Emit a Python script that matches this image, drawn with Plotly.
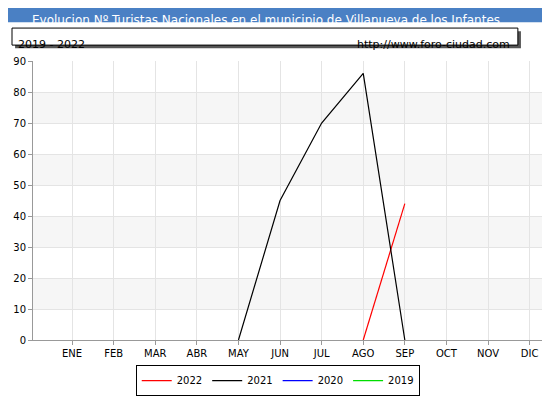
import plotly.graph_objects as go

months = ['ENE', 'FEB', 'MAR', 'ABR', 'MAY', 'JUN', 'JUL', 'AGO', 'SEP', 'OCT', 'NOV', 'DIC']
y2022 = [None, None, None, None, None, None, None, 0, 44, None, None, None]
y2021 = [None, None, None, None, 0, 45, 70, 86, 0, None, None, None]
y2020 = [None] * 12
y2019 = [None] * 12

series = [('2022', y2022, 'red'), ('2021', y2021, 'black'),
          ('2020', y2020, 'blue'), ('2019', y2019, '#00dd00')]

fig = go.Figure()
for name, ys, col in series:
    fig.add_trace(go.Scatter(x=list(range(12)), y=ys, name=name, mode='lines',
                             line=dict(color=col, width=1.2), connectgaps=False))

shapes = []
# light bands
for lo in range(10, 90, 20):
    shapes.append(dict(type='rect', xref='paper', yref='y', x0=0, x1=1, y0=lo, y1=lo + 10,
                       fillcolor='#f6f6f6', line_width=0, layer='below'))
# title bar
shapes.append(dict(type='rect', xref='paper', yref='paper', x0=-0.08, x1=1.03,
                   y0=1.139, y1=1.25, fillcolor='#4a80c4', line_width=0))
# header box with shadow
shapes.append(dict(type='rect', xref='paper', yref='paper', x0=-0.035, x1=0.953,
                   y0=1.046, y1=1.107, fillcolor='#555', line_width=0))
shapes.append(dict(type='rect', xref='paper', yref='paper', x0=-0.041, x1=0.947,
                   y0=1.057, y1=1.118, fillcolor='white', line=dict(color='black', width=1)))
# legend shadow
shapes.append(dict(type='rect', xref='paper', yref='paper', x0=0.215, x1=0.745,
                   y0=-0.097, y1=-0.182, fillcolor='#555', line_width=0))

fig.update_layout(
    width=542, height=392,
    margin=dict(l=25, r=5, t=53, b=59),
    plot_bgcolor='white', paper_bgcolor='white',
    font=dict(family='DejaVu Sans', size=11, color='black'),
    shapes=shapes,
    showlegend=True,
    legend=dict(orientation='h', x=0.478, xanchor='center', y=-0.086, yanchor='top',
                bordercolor='black', borderwidth=1, bgcolor='white',
                font=dict(size=10), itemwidth=30, tracegroupgap=0),
    annotations=[
        dict(text='Evolucion Nº Turistas Nacionales en el municipio de Villanueva de los Infantes',
             xref='paper', yref='paper', x=0.455, y=1.178, showarrow=False,
             font=dict(color='white', size=12)),
        dict(text='2019 - 2022', xref='paper', yref='paper', x=-0.033, y=1.088,
             xanchor='left', showarrow=False, font=dict(size=11)),
        dict(text='http://www.foro-ciudad.com', xref='paper', yref='paper', x=0.935, y=1.088,
             xanchor='right', showarrow=False, font=dict(size=11)),
    ],
    xaxis=dict(range=[-0.94, 11.37], tickmode='array', tickvals=list(range(12)),
               ticktext=months, showgrid=True, gridcolor='#e4e4e4', zeroline=False,
               showline=True, linecolor='#999', ticks='outside', ticklen=4, tickcolor='#999',
               tickfont=dict(size=10)),
    yaxis=dict(range=[0, 90], dtick=10, showgrid=True, gridcolor='#e4e4e4', zeroline=False,
               showline=True, linecolor='#999', ticks='outside', ticklen=4, tickcolor='#999',
               tickfont=dict(size=10)),
)

fig.write_html('out.html')
